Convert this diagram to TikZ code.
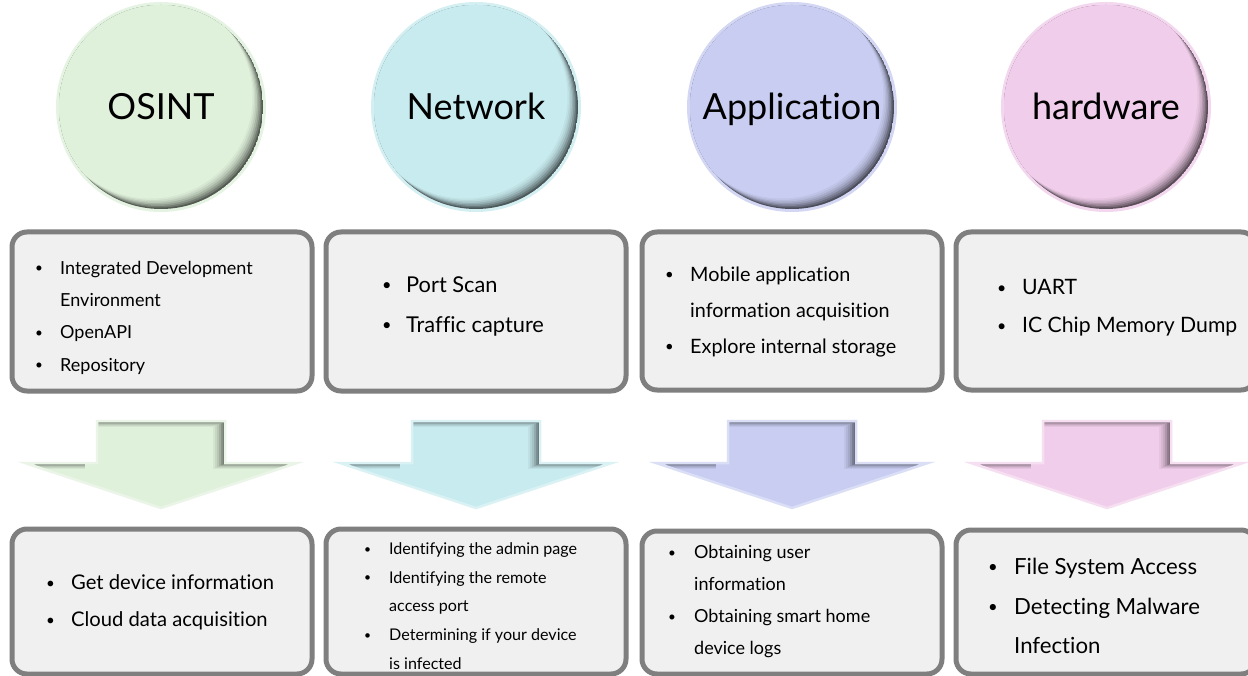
\documentclass[tikz,border=0pt]{standalone}
\usepackage{fontspec}
\setmainfont{Lato}[Ligatures=NoCommon]
\definecolor{cgreen}{HTML}{DFF0DB}
\definecolor{ccyan}{HTML}{C8EBEF}
\definecolor{cviolet}{HTML}{C8CDF1}
\definecolor{cpink}{HTML}{F0CDEA}
\definecolor{boxline}{HTML}{7F7F7F}
\definecolor{boxfill}{HTML}{F0F0F0}

\newcommand\itemline[2]{\makebox[#1][l]{\raisebox{0.08em}{\scalebox{0.75}{\textbullet}}}#2}
\newcommand\contline[2]{\hspace*{#1}#2}

% bubble: name, centre x, colour, label
\newcommand\bubble[4]{%
  \fill[#3!80!white] (#2,107) circle[radius=105pt];
  \begin{scope}
    \clip (#2,107) circle[radius=102pt];
    \foreach \s/\p in {0/38, 1.5/52, 3/64, 4.5/75, 6/84, 7.5/91, 9/96, 10.5/100}
      \fill[#3!\p!black] ({#2-\s},{107-\s}) circle[radius=102pt];
  \end{scope}
  \node[ttl] (#1) at (#2,119.5) {#4};
}

% outline of a block arrow pointing down, centred on x
\newcommand\arrowpath[1]{({#1-64},421) -- ({#1+64},421) -- ({#1+64},463) -- ({#1+136},463) -- (#1,508) -- ({#1-136},463) -- ({#1-64},463) -- cycle}

\newcommand\blockarrow[2]{%
  \begin{scope}
    \clip \arrowpath{#1};
    \foreach \a/\b/\p in {0/0/45, 2/1/60, 4/2/72, 6/3/82, 8/4/89, 10/5/95, 12/6/100}
      \fill[#2!\p!black, shift={({-\a},{\b})}] \arrowpath{#1};
  \end{scope}
  \draw[#2!65!white, line width=2.5pt, line join=miter] \arrowpath{#1};
}

\begin{document}
\begin{tikzpicture}[
  x=1pt, y=-1pt,
  box/.style={draw=boxline, line width=5pt, fill=boxfill, rounded corners=15pt},
  ttl/.style={font=\fontsize{36}{40}\selectfont, anchor=base, inner sep=0pt},
  lst/.style={anchor=west, inner sep=0pt, align=left},
]
\useasboundingbox (0,0) rectangle (1248,676);
\fill[white] (0,0) rectangle (1248,676);
\clip (0,0) rectangle (1248,676);

% category bubbles
\bubble{osint}{161}{cgreen}{OSINT}
\bubble{network}{476}{ccyan}{Network}
\bubble{application}{792}{cviolet}{Application}
\bubble{hardware}{1106}{cpink}{hardware}

% upper boxes
\draw[box] (12,232) rectangle (312,391);
\draw[box] (326,232) rectangle (626,391);
\draw[box] (642,232) rectangle (942,390);
\draw[box] (956,232) rectangle (1256,390);

\node[lst, font=\fontsize{18}{32.3}\selectfont] (t1) at (35,317.5)
  {\itemline{25pt}{Integrated Development}\\ \contline{25pt}{Environment}\\
   \itemline{25pt}{OpenAPI}\\ \itemline{25pt}{Repository}};
\node[lst, font=\fontsize{21.8}{40}\selectfont] (t2) at (382,306)
  {\itemline{24pt}{Port Scan}\\ \itemline{24pt}{Traffic capture}};
\node[lst, font=\fontsize{19.8}{36}\selectfont] (t3) at (665,312)
  {\itemline{25pt}{Mobile application}\\ \contline{25pt}{information acquisition}\\
   \itemline{25pt}{Explore internal storage}};
\node[lst, font=\fontsize{21.2}{38}\selectfont] (t4) at (997,308)
  {\itemline{25pt}{UART}\\ \itemline{25pt}{IC Chip Memory Dump}};

% block arrows
\blockarrow{161}{cgreen}
\blockarrow{476}{ccyan}
\blockarrow{792}{cviolet}
\blockarrow{1107}{cpink}

% lower boxes
\draw[box] (12,529) rectangle (312,674);
\draw[box] (326,529) rectangle (626,674);
\draw[box] (642,531) rectangle (942,674);
\draw[box] (956,530) rectangle (1256,674);

\node[lst, font=\fontsize{20.2}{37}\selectfont] (b1) at (46,602.5)
  {\itemline{25pt}{Get device information}\\ \itemline{25pt}{Cloud data acquisition}};
\node[lst, font=\fontsize{16.1}{28.75}\selectfont] (b2) at (364,606)
  {\itemline{25pt}{Identifying the admin page}\\ \itemline{25pt}{Identifying the remote}\\
   \contline{25pt}{access port}\\ \itemline{25pt}{Determining if your device}\\
   \contline{25pt}{is infected}};
\node[lst, font=\fontsize{18}{32}\selectfont] (b3) at (668,602)
  {\itemline{26pt}{Obtaining user}\\ \contline{26pt}{information}\\
   \itemline{26pt}{Obtaining smart home}\\ \contline{26pt}{device logs}};
\node[lst, font=\fontsize{22.2}{39.5}\selectfont] (b4) at (988,606)
  {\itemline{26pt}{File System Access}\\ \itemline{26pt}{Detecting Malware}\\
   \contline{26pt}{Infection}};
\end{tikzpicture}
\end{document}
